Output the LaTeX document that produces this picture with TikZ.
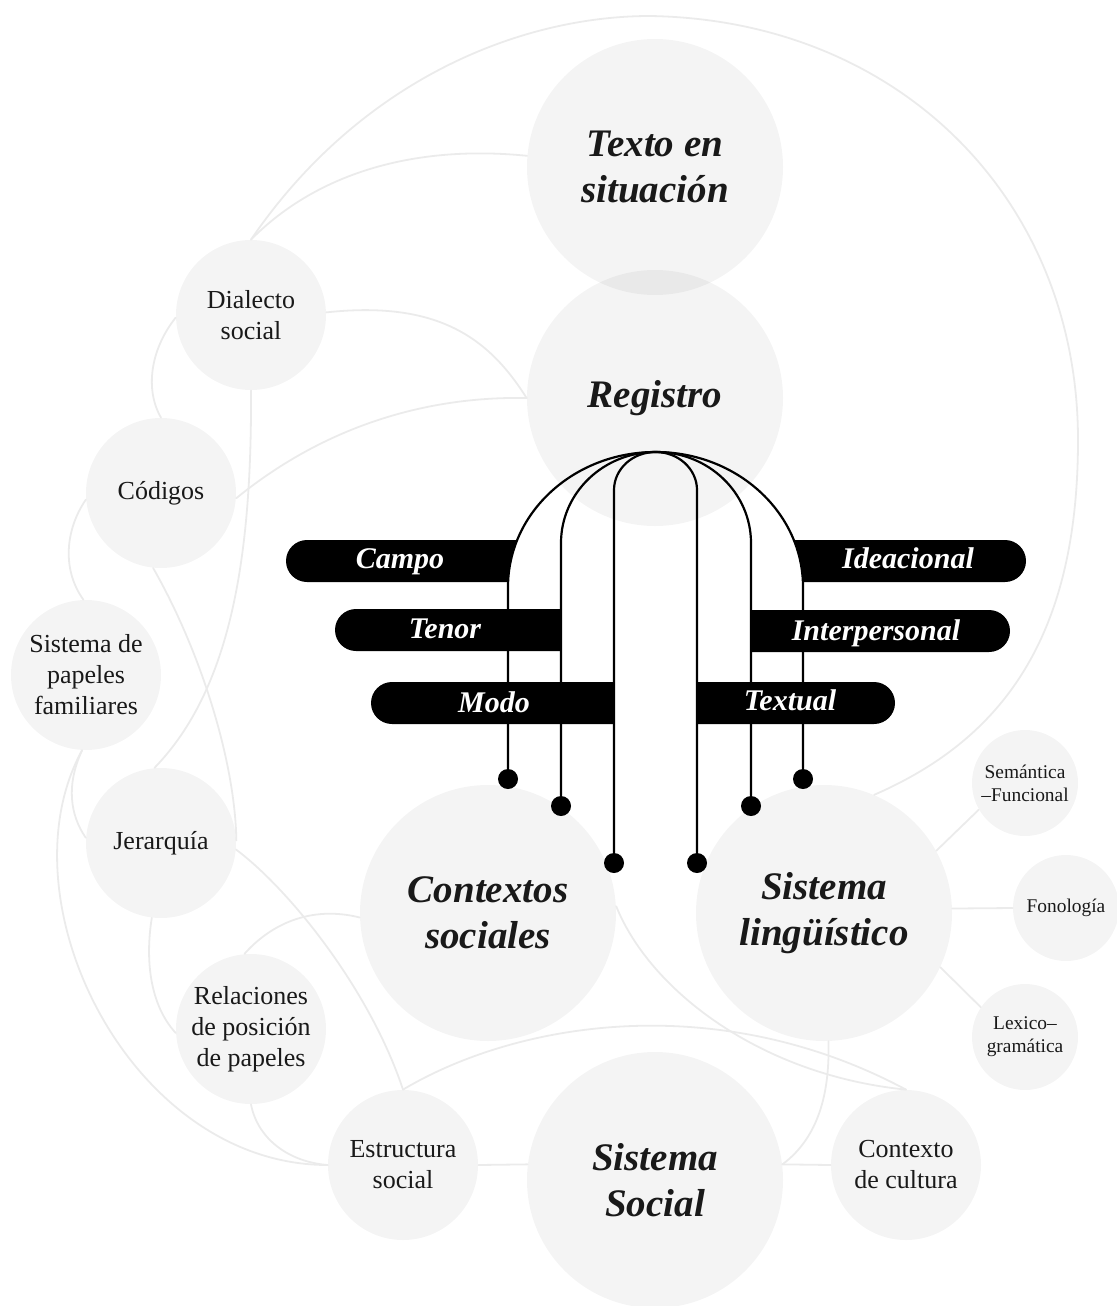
\documentclass[tikz,border=0pt]{standalone}
\usepackage{fontspec}
\setmainfont{Liberation Serif}

\begin{document}
\begin{tikzpicture}[x=0.5pt,y=-0.5pt,line cap=round,
    ball/.style={circle,fill=black,fill opacity=0.045,text opacity=1,inner sep=0pt,align=center,text=black!90},
    bigball/.style={ball,minimum size=128pt,font=\fontsize{19.5}{23}\selectfont\bfseries\itshape},
    midball/.style={ball,minimum size=75pt,font=\fontsize{13}{15.5}\selectfont},
    smallball/.style={ball,minimum size=53pt,font=\fontsize{9.7}{11.5}\selectfont},
    link/.style={draw=black!8,line width=0.9pt},
    arch/.style={draw=black,line width=1.1pt},
    bar/.style={fill=black},
    bartext/.style={anchor=base,text=white,font=\fontsize{15}{18}\selectfont\bfseries\itshape},
    dot/.style={circle,fill=black,inner sep=0pt,minimum size=10pt}]
    \useasboundingbox (0,0) rectangle (1116,1306);

    % draw the big circles
    \node[bigball] (texto)     at (655,167)  {Texto en\\situación};
    \node[bigball] (registro)  at (655,398)  {Registro};
    \node[bigball] (contextos) at (488,913)  {Contextos\\sociales};
    \node[bigball] (lingu)     at (824,913)  {Sistema\\lingüístico};
    \node[bigball] (social)    at (655,1180) {Sistema\\Social};

    % draw the smaller circles round them
    \node[midball] (dialecto)   at (251,315)  {Dialecto\\social};
    \node[midball] (codigos)    at (161,493)  {Códigos};
    \node[midball] (papeles)    at (86,675)   {Sistema de\\papeles\\familiares};
    \node[midball] (jerarquia)  at (161,843)  {Jerarquía};
    \node[midball] (relaciones) at (251,1029) {Relaciones\\de posición\\de papeles};
    \node[midball] (estructura) at (403,1165) {Estructura\\social};
    \node[midball] (cultura)    at (906,1165) {Contexto\\de cultura};
    \node[smallball] (semantica) at (1025,783)  {Semántica\\–Funcional};
    \node[smallball] (fonologia) at (1066,908)  {Fonología};
    \node[smallball] (lexico)    at (1025,1037) {Lexico–\\gramática};

    % draw the grey links
    \draw[link] (dialecto.north) .. controls (360,80) and (520,16) .. (650,16)
        .. controls (900,20) and (1078,200) .. (1078,440)
        .. controls (1078,640) and (1000,740) .. (lingu.67);
    \draw[link] (dialecto.north) .. controls (320,170) and (420,145) .. (texto.175);
    \draw[link] (dialecto.2) .. controls (440,300) and (490,340) .. (registro.west);
    \draw[link] (codigos.-4) .. controls (320,430) and (420,396) .. (registro.west);
    \draw[link] (dialecto.south) .. controls (252,560) and (230,690) .. (jerarquia.95);
    \draw[link] (codigos.-96) .. controls (200,650) and (235,760) .. (jerarquia.2);
    \draw[link] (jerarquia.-5) .. controls (290,890) and (370,990) .. (estructura.north);
    \draw[link] (estructura.north) .. controls (520,1020) and (720,990) .. (cultura.north);
    \draw[link] (contextos.3) .. controls (650,990) and (760,1075) .. (cultura.north);
    \draw[link] (lingu.-88) .. controls (830,1100) and (815,1140) .. (social.7);
    \draw[link] (social.7) -- (cultura.west);
    \draw[link] (estructura.east) -- (social.173);
    \draw[link] (relaciones.south) .. controls (258,1140) and (290,1162) .. (estructura.west);
    \draw[link] (papeles.-93) .. controls (0,900) and (130,1165) .. (estructura.west);
    \draw[link] (papeles.-93) .. controls (66,785) and (70,815) .. (jerarquia.176);
    \draw[link] (codigos.185) .. controls (65,530) and (62,570) .. (papeles.92);
    \draw[link] (dialecto.182) .. controls (150,350) and (145,390) .. (codigos.north);
    \draw[link] (jerarquia.-97) .. controls (145,960) and (150,1005) .. (relaciones.183);
    \draw[link] (contextos.182) .. controls (310,905) and (270,925) .. (relaciones.95);
    \draw[link] (lingu.29) -- (semantica.-150);
    \draw[link] (lingu.2) -- (fonologia.west);
    \draw[link] (lingu.-25) -- (lexico.146);

    % draw the black bars, the outer ones cut by the arch
    \begin{scope}
        \clip (200,452) -- (655.5,452) arc[start angle=270, end angle=180, x radius=147.5, y radius=135]
            -- (508,600) -- (200,600) -- cycle;
        \fill[bar] (540,540) -- (307,540) arc[start angle=270, end angle=90, radius=21] -- (540,582) -- cycle;
    \end{scope}
    \begin{scope}
        \clip (1100,452) -- (655.5,452) arc[start angle=270, end angle=360, x radius=147.5, y radius=135]
            -- (803,600) -- (1100,600) -- cycle;
        \fill[bar] (770,540) -- (1005,540) arc[start angle=270, end angle=450, radius=21] -- (770,582) -- cycle;
    \end{scope}
    \fill[bar] (561,609) -- (356,609) arc[start angle=270, end angle=90, radius=21] -- (561,651) -- cycle;
    \fill[bar] (614,682) -- (392,682) arc[start angle=270, end angle=90, radius=21] -- (614,724) -- cycle;
    \fill[bar] (751,610) -- (989,610) arc[start angle=270, end angle=450, radius=21] -- (751,652) -- cycle;
    \fill[bar] (697,682) -- (874,682) arc[start angle=270, end angle=450, radius=21] -- (697,724) -- cycle;

    % draw the arches from the register down to the dots
    \node[dot] (dl1) at (508,779) {};
    \node[dot] (dl2) at (561,806) {};
    \node[dot] (dl3) at (614,863) {};
    \node[dot] (dr3) at (697,863) {};
    \node[dot] (dr2) at (751,806) {};
    \node[dot] (dr1) at (803,779) {};
    \draw[arch] (dl1) -- (508,587) arc[start angle=180, end angle=360, x radius=147.5, y radius=135] -- (dr1);
    \draw[arch] (dl2) -- (561,543) arc[start angle=180, end angle=360, x radius=95, y radius=91] -- (dr2);
    \draw[arch] (dl3) -- (614,490) arc[start angle=180, end angle=360, x radius=41.5, y radius=38] -- (dr3);

    % the labels on the bars go on top
    \node[bartext] (campo)         at (400,568) {Campo};
    \node[bartext] (tenor)         at (445,638) {Tenor};
    \node[bartext] (modo)          at (494,712) {Modo};
    \node[bartext] (ideacional)    at (908,568) {Ideacional};
    \node[bartext] (interpersonal) at (876,640) {Interpersonal};
    \node[bartext] (textual)       at (790,710) {Textual};
\end{tikzpicture}
\end{document}
